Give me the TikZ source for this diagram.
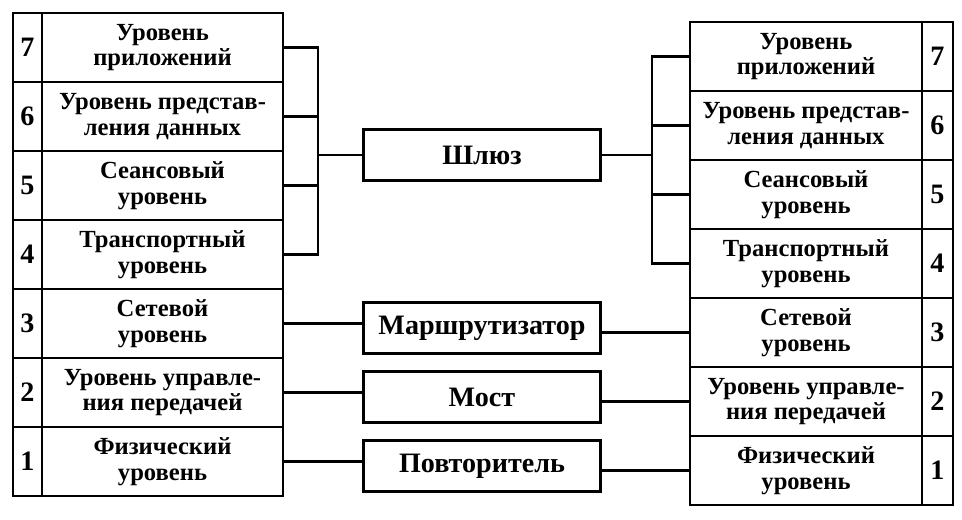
\documentclass[tikz,border=0pt]{standalone}
\usepackage{fontspec}
\setmainfont{Liberation Serif}
\usetikzlibrary{positioning}

\begin{document}
\begin{tikzpicture}[
	layer/.style={draw, line width=1.4pt, outer sep=0pt, inner sep=0pt, minimum width=#1, minimum height=1.38cm, align=center, font=\bfseries\fontsize{14}{14.5}\selectfont},
	lnum/.style={draw, line width=1.4pt, outer sep=0pt, inner sep=0pt, minimum width=#1, minimum height=1.38cm, font=\bfseries\fontsize{16}{16}\selectfont},
	device/.style={draw, line width=1.4pt, outer sep=0pt, minimum width=4.74cm, minimum height=1.02cm, font=\bfseries\fontsize{16}{16}\selectfont},
	link/.style={line width=1.4pt}]
	\useasboundingbox (0, 0) rectangle (19.24, 10.38);

	\node[layer=4.82cm] (L7) at (3.25, 9.43) {Уровень\\приложений};
	\node[layer=4.82cm, below=0pt of L7] (L6) {Уровень представ-\\ления данных};
	\node[layer=4.82cm, below=0pt of L6] (L5) {Сеансовый\\уровень};
	\node[layer=4.82cm, below=0pt of L5] (L4) {Транспортный\\уровень};
	\node[layer=4.82cm, below=0pt of L4] (L3) {Сетевой\\уровень};
	\node[layer=4.82cm, below=0pt of L3] (L2) {Уровень управле-\\ния передачей};
	\node[layer=4.82cm, below=0pt of L2] (L1) {Физический\\уровень};
	\node[lnum=0.58cm, left=0pt of L7] (LN7) {7};
	\node[lnum=0.58cm, left=0pt of L6] (LN6) {6};
	\node[lnum=0.58cm, left=0pt of L5] (LN5) {5};
	\node[lnum=0.58cm, left=0pt of L4] (LN4) {4};
	\node[lnum=0.58cm, left=0pt of L3] (LN3) {3};
	\node[lnum=0.58cm, left=0pt of L2] (LN2) {2};
	\node[lnum=0.58cm, left=0pt of L1] (LN1) {1};

	\node[layer=4.64cm] (R7) at (16.12, 9.25) {Уровень\\приложений};
	\node[layer=4.64cm, below=0pt of R7] (R6) {Уровень представ-\\ления данных};
	\node[layer=4.64cm, below=0pt of R6] (R5) {Сеансовый\\уровень};
	\node[layer=4.64cm, below=0pt of R5] (R4) {Транспортный\\уровень};
	\node[layer=4.64cm, below=0pt of R4] (R3) {Сетевой\\уровень};
	\node[layer=4.64cm, below=0pt of R3] (R2) {Уровень управле-\\ния передачей};
	\node[layer=4.64cm, below=0pt of R2] (R1) {Физический\\уровень};
	\node[lnum=0.62cm, right=0pt of R7] (RN7) {7};
	\node[lnum=0.62cm, right=0pt of R6] (RN6) {6};
	\node[lnum=0.62cm, right=0pt of R5] (RN5) {5};
	\node[lnum=0.62cm, right=0pt of R4] (RN4) {4};
	\node[lnum=0.62cm, right=0pt of R3] (RN3) {3};
	\node[lnum=0.62cm, right=0pt of R2] (RN2) {2};
	\node[lnum=0.62cm, right=0pt of R1] (RN1) {1};

	\node[device] (gw) at (9.64, 7.28) {Шлюз};
	\node[device] (rt) at (9.64, 3.82) {Маршрутизатор};
	\node[device] (br) at (9.64, 2.44) {Мост};
	\node[device] (rp) at (9.64, 1.06) {Повторитель};

	\coordinate (gwl) at (6.36, 7.28);
	\coordinate (gwr) at (13.04, 7.28);
	\draw[link] (L7.east) -- (L7.east -| gwl) -- (L4.east -| gwl) -- (L4.east);
	\draw[link] (L6.east) -- (L6.east -| gwl);
	\draw[link] (L5.east) -- (L5.east -| gwl);
	\draw[link] (gwl) -- (gw.west);
	\draw[link] (R7.west) -- (R7.west -| gwr) -- (R4.west -| gwr) -- (R4.west);
	\draw[link] (R6.west) -- (R6.west -| gwr);
	\draw[link] (R5.west) -- (R5.west -| gwr);
	\draw[link] (gw.east) -- (gwr);

	\draw[link] (L3.east) -- (L3.east -| rt.west);
	\draw[link] (rt.east |- R3.west) -- (R3.west);
	\draw[link] (L2.east) -- (L2.east -| br.west);
	\draw[link] (br.east |- R2.west) -- (R2.west);
	\draw[link] (L1.east) -- (L1.east -| rp.west);
	\draw[link] (rp.east |- R1.west) -- (R1.west);
\end{tikzpicture}
\end{document}
